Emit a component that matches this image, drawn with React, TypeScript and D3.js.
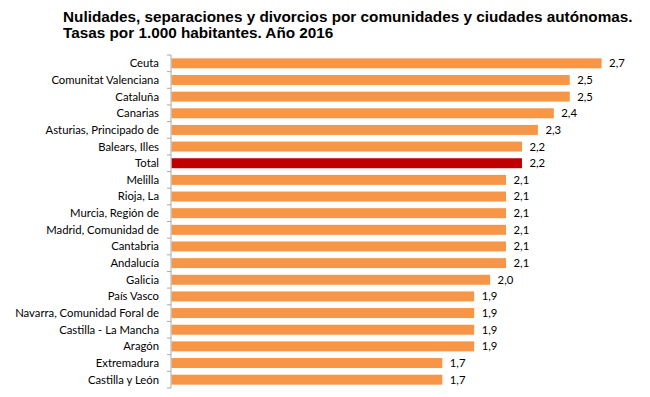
import React, { useEffect, useRef } from 'react';
import * as d3 from 'd3';

const categories = [
  'Ceuta',
  'Comunitat Valenciana',
  'Cataluña',
  'Canarias',
  'Asturias, Principado de',
  'Balears, Illes',
  'Total',
  'Melilla',
  'Rioja, La',
  'Murcia, Región de',
  'Madrid, Comunidad de',
  'Cantabria',
  'Andalucía',
  'Galicia',
  'País Vasco',
  'Navarra, Comunidad Foral de',
  'Castilla - La Mancha',
  'Aragón',
  'Extremadura',
  'Castilla y León',
];
const rates = [2.7, 2.5, 2.5, 2.4, 2.3, 2.2, 2.2, 2.1, 2.1, 2.1, 2.1, 2.1, 2.1, 2.0, 1.9, 1.9, 1.9, 1.9, 1.7, 1.7];
const titleLines = [
  'Nulidades, separaciones y divorcios por comunidades y ciudades autónomas.',
  'Tasas por 1.000 habitantes. Año 2016',
];

const W = 650;
const H = 397;

export default function App() {
  const ref = useRef<SVGSVGElement>(null);

  useEffect(() => {
    const svg = d3.select(ref.current);
    svg.selectAll('*').remove();

    const data = categories.map((c, i) => ({ name: c, value: rates[i] }));

    const x = d3.scaleLinear().domain([0, 3]).range([171, 171 + 3 * 159.3]);
    const y = d3.scaleBand().domain(categories).range([55, 388]).paddingInner(0.4).paddingOuter(0.2);

    svg.append('rect').attr('width', W).attr('height', H).attr('fill', '#fff');

    const title = svg.append('text')
      .attr('x', 63)
      .attr('font-family', 'Liberation Sans, Arial, sans-serif')
      .attr('font-weight', 'bold')
      .attr('font-size', 15.3)
      .attr('fill', '#000');
    titleLines.forEach((t, i) => {
      title.append('tspan').attr('x', 63).attr('y', 22 + i * 16).text(t);
    });

    svg.selectAll('.bar')
      .data(data)
      .enter()
      .append('rect')
      .attr('class', 'bar')
      .attr('x', x(0) + 0.5)
      .attr('y', d => y(d.name)!)
      .attr('width', d => x(d.value) - x(0))
      .attr('height', y.bandwidth())
      .attr('fill', d => d.name === 'Total' ? '#C00000' : '#F79646');

    // category axis
    const step = y.step();
    const yAxis = svg.append('g');
    yAxis.append('line')
      .attr('x1', x(0)).attr('x2', x(0))
      .attr('y1', 55).attr('y2', 388)
      .attr('stroke', '#aaa');
    d3.range(categories.length + 1).forEach(i => {
      yAxis.append('line')
        .attr('x1', x(0) - 4).attr('x2', x(0))
        .attr('y1', 55 + i * step).attr('y2', 55 + i * step)
        .attr('stroke', '#aaa');
    });

    svg.selectAll('.lab')
      .data(data)
      .enter()
      .append('text')
      .attr('class', 'lab')
      .attr('x', 159)
      .attr('y', d => y(d.name)! + y.bandwidth() / 2)
      .attr('dy', '0.35em')
      .attr('text-anchor', 'end')
      .attr('font-family', 'Lato, Open Sans, sans-serif')
      .attr('font-size', 11.3)
      .attr('fill', '#000')
      .text(d => d.name);

    svg.selectAll('.val')
      .data(data)
      .enter()
      .append('text')
      .attr('class', 'val')
      .attr('x', d => x(d.value) + 8)
      .attr('y', d => y(d.name)! + y.bandwidth() / 2)
      .attr('dy', '0.35em')
      .attr('font-family', 'Lato, Open Sans, sans-serif')
      .attr('font-size', 11.3)
      .attr('fill', '#000')
      .text(d => d3.format('.1f')(d.value).replace('.', ','));
  }, []);

  return (
    <svg ref={ref} width={W} height={H} style={{ position: 'absolute', left: 0, top: 0 }} />
  );
}
